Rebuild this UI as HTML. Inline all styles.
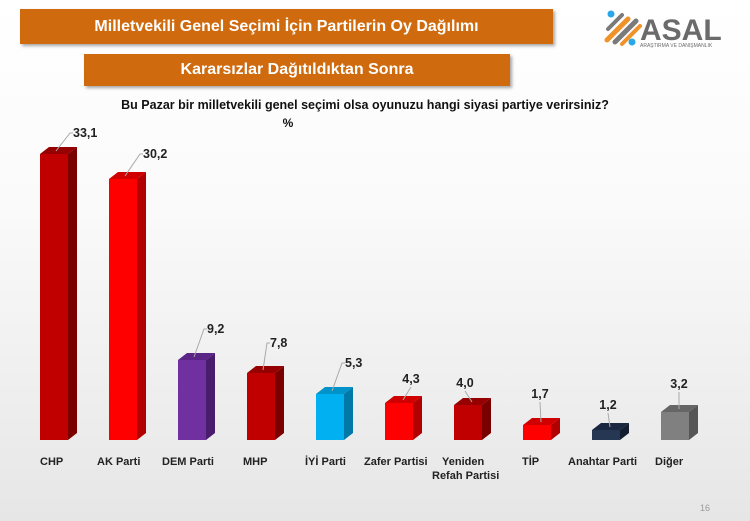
<!DOCTYPE html>
<html><head><meta charset="utf-8"><style>
html,body{margin:0;padding:0}
body{width:750px;height:521px;overflow:hidden;background:linear-gradient(#fff 0%,#fafafa 40%,#e6e6e6 100%);font-family:"Liberation Sans",sans-serif;position:relative}
.box{position:absolute;background:#cf6a0e;color:#fff;font-weight:bold;text-align:center;box-shadow:2px 2px 3px rgba(0,0,0,.35)}
</style></head><body>
<div class="box" style="left:20px;top:9px;width:533px;height:35px;line-height:35px;font-size:16px">Milletvekili Genel Seçimi İçin Partilerin Oy Dağılımı</div>
<div class="box" style="left:84px;top:54px;width:426px;height:32px;line-height:32px;font-size:16px">Kararsızlar Dağıtıldıktan Sonra</div>
<svg width="750" height="521" style="position:absolute;left:0;top:0" font-family="Liberation Sans, sans-serif">
<line x1="607" y1="40" x2="628" y2="19" stroke="#f0922a" stroke-width="5" stroke-linecap="round"/>
<line x1="615" y1="42" x2="636" y2="21" stroke="#7a7a7a" stroke-width="5" stroke-linecap="round"/>
<line x1="608" y1="29" x2="622" y2="15" stroke="#7a7a7a" stroke-width="4" stroke-linecap="round"/>
<line x1="622" y1="44" x2="640" y2="26" stroke="#f0922a" stroke-width="4" stroke-linecap="round"/>
<circle cx="611" cy="14" r="3.5" fill="#2aa7e8"/><circle cx="632" cy="42" r="3.5" fill="#2aa7e8"/>
<text x="640" y="40" font-size="30" font-weight="bold" fill="#6b6b6b">ASAL</text>
<text x="640" y="47" font-size="5" fill="#6b6b6b">ARAŞTIRMA VE DANIŞMANLIK</text>
<text x="365" y="109" font-size="12.5" font-weight="bold" text-anchor="middle" fill="#111">Bu Pazar bir milletvekili genel seçimi olsa oyunuzu hangi siyasi partiye verirsiniz?</text>
<text x="288" y="127" font-size="12" font-weight="bold" text-anchor="middle" fill="#111">%</text>
<g id="bars"></g>
<g font-size="11" font-weight="bold" fill="#222">
<text x="40" y="465">CHP</text><text x="97" y="465">AK Parti</text><text x="162" y="465">DEM Parti</text>
<text x="243" y="465">MHP</text><text x="305" y="465">İYİ Parti</text><text x="364" y="465">Zafer Partisi</text>
<text x="442" y="465">Yeniden</text><text x="432" y="479">Refah Partisi</text><text x="522" y="465">TİP</text>
<text x="568" y="465">Anahtar Parti</text><text x="655" y="465">Diğer</text>
</g>
<text x="700" y="511" font-size="9" fill="#999">16</text>
</svg>
<script>
var d=[["#c00000","#7a0000","#960000",286,"33,1",73,137,0],["#ff0000","#b00000","#d00000",261,"30,2",143,158,0],["#7030a0","#4a1c6e","#5a2586",80,"9,2",207,333,0],["#c00000","#7a0000","#960000",67,"7,8",270,347,0],["#00b0f0","#0079a8","#0093c9",46,"5,3",345,367,0],["#ff0000","#b00000","#d00000",37,"4,3",411,383,1],["#c00000","#7a0000","#960000",35,"4,0",465,387,1],["#ff0000","#b00000","#d00000",15,"1,7",540,398,1],["#263754","#121d30","#1a2740",10,"1,2",608,409,1],["#808080","#555","#666",28,"3,2",679,388,1]];
var s="";d.forEach(function(b,i){var x=40+69*i,t=440-b[3];
s+='<rect x="'+x+'" y="'+t+'" width="28" height="'+b[3]+'" fill="'+b[0]+'"/>';
s+='<polygon points="'+x+','+t+' '+(x+9)+','+(t-7)+' '+(x+37)+','+(t-7)+' '+(x+28)+','+t+'" fill="'+b[2]+'"/>';
s+='<polygon points="'+(x+28)+','+t+' '+(x+37)+','+(t-7)+' '+(x+37)+',433 '+(x+28)+',440" fill="'+b[1]+'"/>';
if(b[7]){
s+='<line x1="'+(x+18)+'" y1="'+(t-3)+'" x2="'+b[5]+'" y2="'+(b[6]+4)+'" stroke="#aaa" stroke-width="1"/>';
s+='<text x="'+b[5]+'" y="'+b[6]+'" font-size="12.5" font-weight="bold" fill="#222" text-anchor="middle">'+b[4]+'</text>';
}else{var lx=b[5]-3,ly=b[6]-4;
s+='<polyline points="'+(x+16)+','+(t-3)+' '+lx+','+ly+' '+(lx+3)+','+ly+'" fill="none" stroke="#aaa" stroke-width="1"/>';
s+='<text x="'+b[5]+'" y="'+b[6]+'" font-size="12.5" font-weight="bold" fill="#222">'+b[4]+'</text>';}});
document.getElementById("bars").innerHTML=s;
</script>
</body></html>
